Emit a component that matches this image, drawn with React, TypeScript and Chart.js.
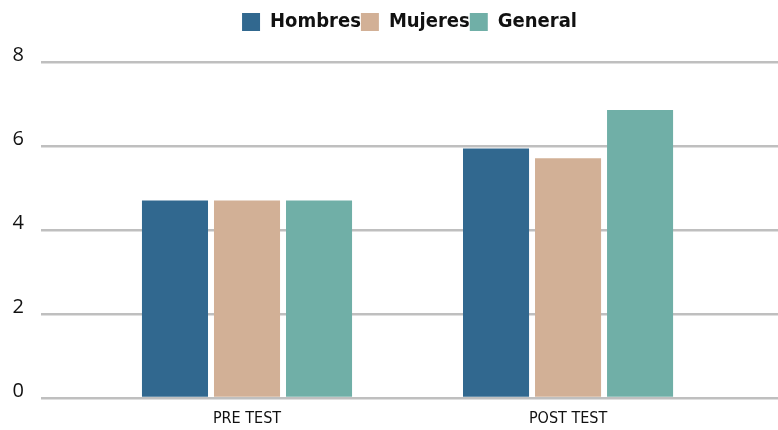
import React, { useEffect, useRef } from "react";
import { Chart, registerables } from "chart.js";

Chart.register(...registerables);

const CATEGORIES = ["PRE TEST", "POST TEST"];
const SERIES_NAMES = ["Hombres", "Mujeres", "General"];
const HOMBRES = [4.7, 5.94];
const MUJERES = [4.7, 5.71];
const GENERAL = [4.7, 6.86];
const Y_TICKS = [0, 2, 4, 6, 8];
const COLORS = ["#31688f", "#d2b096", "#70afa7"];

const NARROW = "'Liberation Sans Narrow', 'DejaVu Sans Condensed', sans-serif";

const legendGap = {
  id: "legendGap",
  beforeInit(chart: any) {
    const legend = chart.legend;
    if (!legend) return;
    const fit = legend.fit;
    legend.fit = function () {
      fit.call(this);
      this.height += 20;
    };
  },
};

export default function App() {
  const ref = useRef<HTMLCanvasElement | null>(null);

  useEffect(() => {
    document.body.style.margin = "0";
    const canvas = ref.current;
    if (!canvas) return;
    const values = [HOMBRES, MUJERES, GENERAL];
    const chart = new Chart(canvas, {
      type: "bar",
      data: {
        datasets: SERIES_NAMES.map((name, s) => ({
          label: name,
          data: values[s].map((v, i) => ({ x: i, y: v })),
          backgroundColor: COLORS[s],
          borderWidth: 0,
          categoryPercentage: 0.673,
          barPercentage: 0.917,
        })),
      },
      plugins: [legendGap],
      options: {
        animation: false,
        responsive: false,
        maintainAspectRatio: false,
        layout: { padding: { top: 12, right: 0, bottom: 0, left: 0 } },
        plugins: {
          tooltip: { enabled: false },
          legend: {
            position: "top",
            align: "center",
            fullSize: false,
            labels: {
              boxWidth: 18,
              boxHeight: 18,
              padding: 0,
              color: "#111",
              font: { family: NARROW, size: 20, weight: "bold" },
            },
          },
        },
        scales: {
          x: {
            type: "linear",
            min: -0.6417,
            max: 1.654,
            offset: false,
            grid: { display: false },
            border: { display: false },
            afterBuildTicks: (axis: any) => {
              axis.ticks = CATEGORIES.map((_, i) => ({ value: i }));
            },
            afterFit: (axis: any) => {
              axis.height = 32;
            },
            ticks: {
              padding: 3,
              color: "#111",
              font: { family: NARROW, size: 16 },
              callback: (v: any) => CATEGORIES[Math.round(Number(v))] ?? "",
            },
          },
          y: {
            min: 0,
            max: 8,
            afterBuildTicks: (axis: any) => {
              axis.ticks = Y_TICKS.map((v) => ({ value: v }));
            },
            afterFit: (axis: any) => {
              axis.width = 41;
            },
            grid: { color: "#bfbfbf", lineWidth: 2.5, drawTicks: false },
            border: { display: false },
            ticks: {
              padding: 17,
              labelOffset: -7,
              color: "#111",
              font: { family: "'Open Sans', sans-serif", size: 20 },
            },
          },
        },
      },
    });
    return () => chart.destroy();
  }, []);

  return (
    <div style={{ width: 778, height: 430 }}>
      <canvas ref={ref} width={778} height={430} style={{ display: "block" }} />
    </div>
  );
}
